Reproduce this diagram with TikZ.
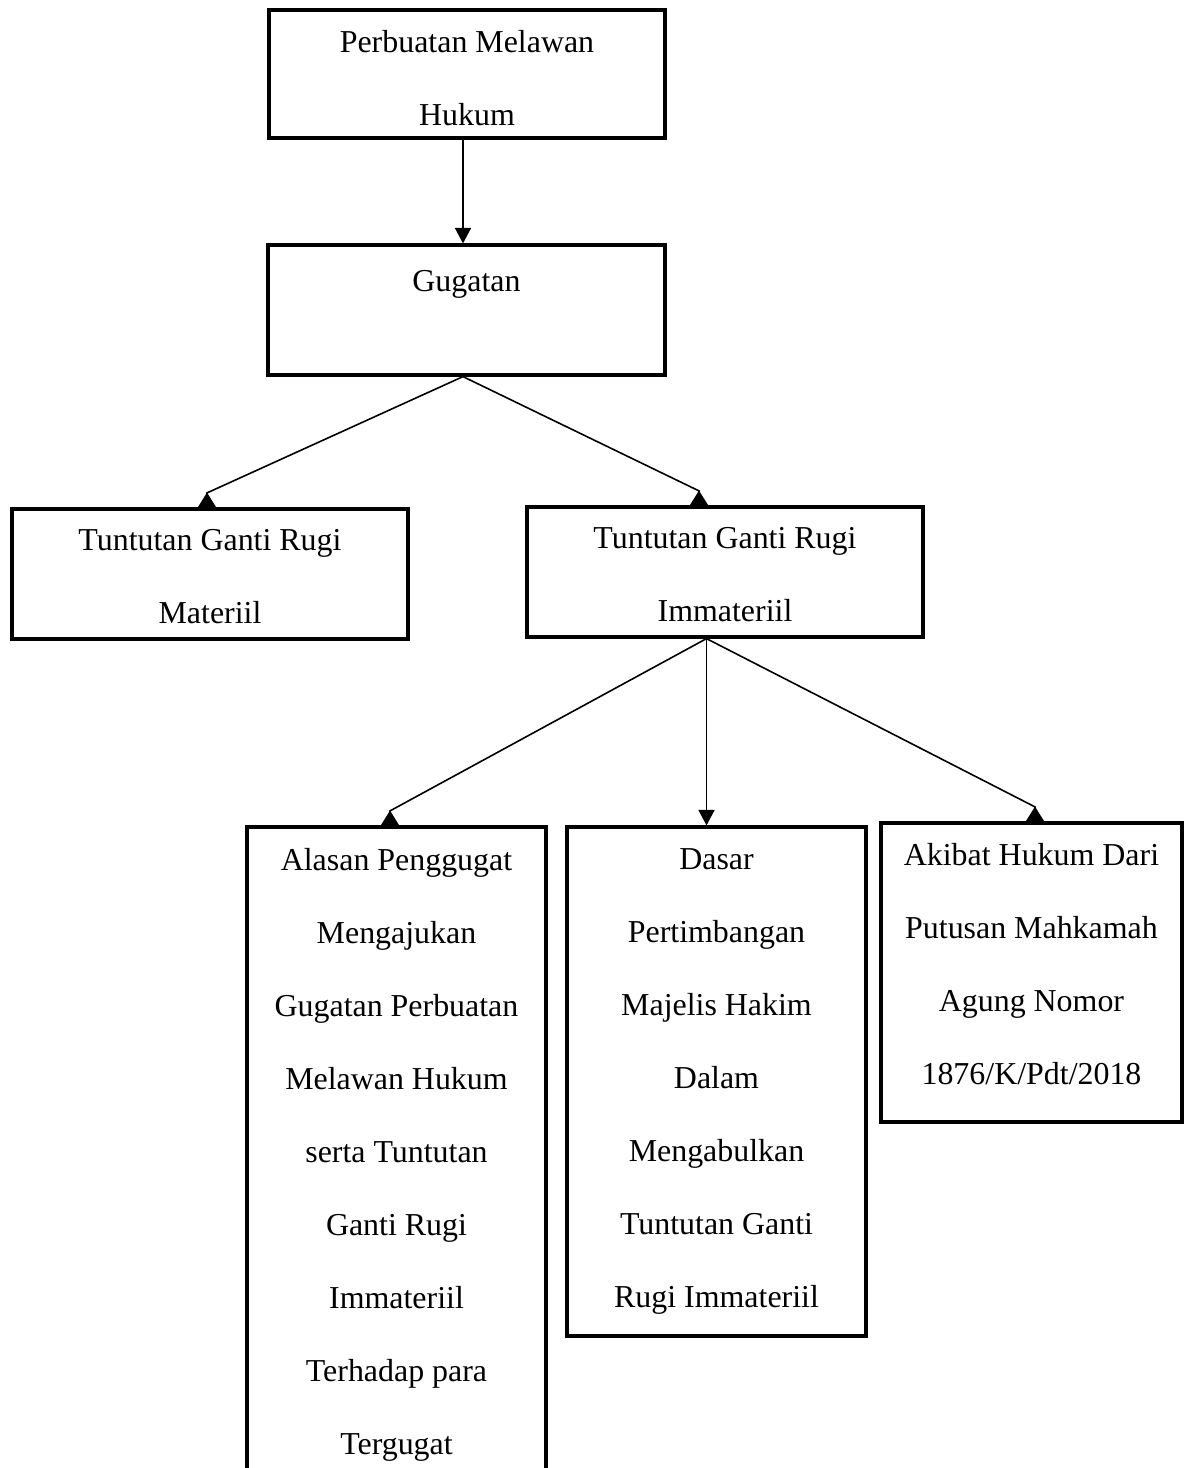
\documentclass[tikz,border=0pt]{standalone}
\usepackage{fontspec}
\setmainfont{Liberation Serif}
\usetikzlibrary{calc,arrows.meta}
\begin{document}
\begin{tikzpicture}[x=0.376pt,y=-0.376pt,
  box/.style={draw,line width=1.2pt,fill=white,rectangle,inner sep=0pt},
  txt/.style={font=\fontsize{12pt}{27.45pt}\selectfont,align=center,inner sep=0pt,anchor=north,
    execute at begin node={\rule{0pt}{10pt}}},
  conn/.style={line width=0.6pt},
  downarrow/.style={conn,-{Triangle[length=5.8pt,width=6pt]}},
  uparrowtip/.style={conn,-{Triangle[reversed,length=5.6pt,width=6.8pt]}}
]
\clip (0,0) rectangle (1184,1468);
\fill[white] (0,0) rectangle (1184,1468);
% boxes
\node[box,minimum width=396*0.376pt,minimum height=128*0.376pt] (b1) at (467,74) {};
\node[box,minimum width=397*0.376pt,minimum height=130*0.376pt] (b2) at (466.5,310) {};
\node[box,minimum width=396*0.376pt,minimum height=130*0.376pt] (b3) at (210,574) {};
\node[box,minimum width=396*0.376pt,minimum height=130*0.376pt] (b4) at (725,572) {};
\node[box,minimum width=299*0.376pt,minimum height=680*0.376pt] (b5) at (396.5,1167) {};
\node[box,minimum width=299*0.376pt,minimum height=509*0.376pt] (b6) at (716.5,1081.5) {};
\node[box,minimum width=301*0.376pt,minimum height=299*0.376pt] (b7) at (1031.5,972.5) {};
% texts
\node[txt] (t1) at ($(b1.north)+(0,21.4)$) {Perbuatan Melawan\\Hukum};
\node[txt] (t2) at ($(b2.north)+(0,21.4)$) {Gugatan};
\node[txt] (t3) at ($(b3.north)+(0,21.4)$) {Tuntutan Ganti Rugi\\Materiil};
\node[txt] (t4) at ($(b4.north)+(0,21.4)$) {Tuntutan Ganti Rugi\\Immateriil};
\node[txt] (t5) at ($(b5.north)+(0,22.4)$) {Alasan Penggugat\\Mengajukan\\Gugatan Perbuatan\\Melawan Hukum\\serta Tuntutan\\Ganti Rugi\\Immateriil\\Terhadap para\\Tergugat};
\node[txt] (t6) at ($(b6.north)+(0,22.4)$) {Dasar\\Pertimbangan\\Majelis Hakim\\Dalam\\Mengabulkan\\Tuntutan Ganti\\Rugi Immateriil};
\node[txt] (t7) at ($(b7.north)+(0,21.4)$) {Akibat Hukum Dari\\Putusan Mahkamah\\Agung Nomor\\1876/K/Pdt/2018};
% connectors
\coordinate (f2) at ($(b2.south)+(-3.5,0)$);
\coordinate (f4) at ($(b4.south)+(-18.5,0)$);
\draw[downarrow] ($(b1.south)+(-4,0)$) -- ($(b2.north)+(-3.5,0)$);
\draw[uparrowtip] (f2) -- ($(b3.north)+(-3,-14.5)$) -- ($(b3.north)+(-3,0)$);
\draw[uparrowtip] (f2) -- ($(b4.north)+(-26,-14.5)$) -- ($(b4.north)+(-26,0)$);
\draw[uparrowtip] (f4) -- ($(b5.north)+(-6.5,-14.5)$) -- ($(b5.north)+(-6.5,0)$);
\draw[downarrow] (f4) -- ($(b6.north)+(-10,0)$);
\draw[uparrowtip] (f4) -- ($(b7.north)+(3.5,-14.5)$) -- ($(b7.north)+(3.5,0)$);
\end{tikzpicture}
\end{document}
